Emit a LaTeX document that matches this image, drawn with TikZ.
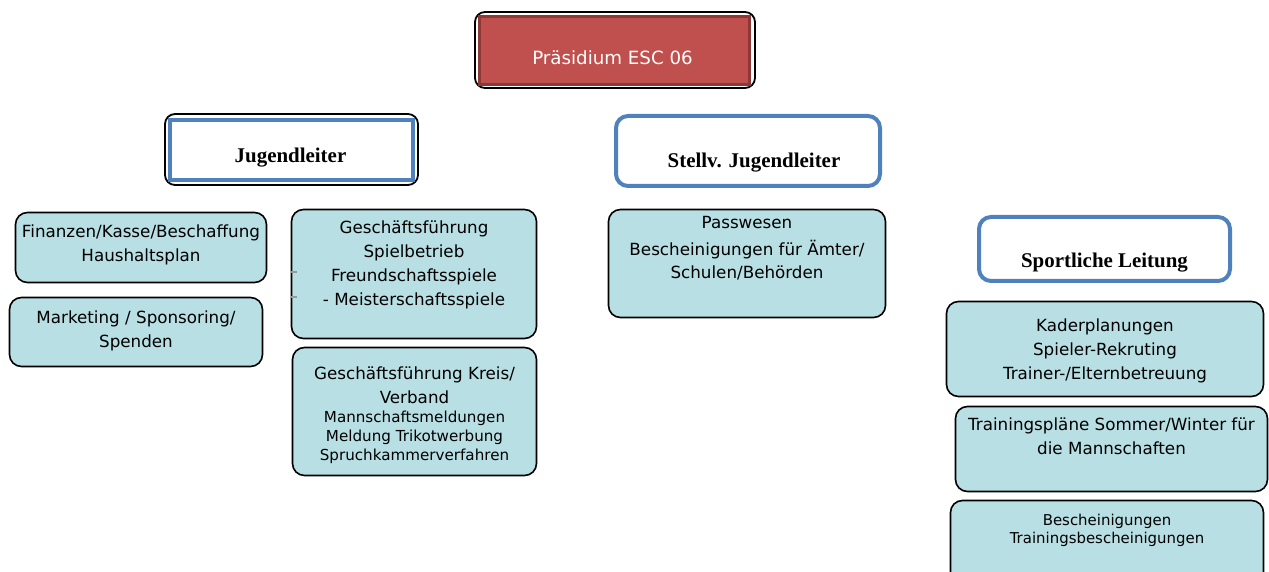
\documentclass[tikz,border=0pt]{standalone}
\usepackage{fontspec}
\setmainfont{DejaVu Sans}
\newfontfamily\headfont{Liberation Serif}
\usetikzlibrary{positioning}
\definecolor{tealfill}{RGB}{184,223,228}
\definecolor{headblue}{RGB}{79,129,189}
\definecolor{presred}{RGB}{192,80,77}
\definecolor{presdark}{RGB}{140,56,54}

\begin{document}
\begin{tikzpicture}[x=1bp, y=-1bp,
  sz/.style 2 args={minimum width=#1bp, minimum height=#2bp},
  task/.style     ={draw=black, line width=1.6bp, rounded corners=12bp, fill=tealfill, inner sep=0pt},
  tasktext/.style ={anchor=north, align=center, inner sep=0pt, font=\fontsize{16.8}{24}\selectfont},
  blackframe/.style={draw=black, line width=1.8bp, rounded corners=10bp, inner sep=0pt},
  head/.style     ={draw=headblue, line width=4bp, fill=white, inner sep=0pt},
  headtext/.style ={inner sep=0pt, font=\headfont\bfseries\fontsize{21}{24}\selectfont},
  presbox/.style  ={draw=presdark, line width=3bp, fill=presred, inner sep=0pt},
  tick/.style     ={draw=gray!80, line width=1.5bp}
]
\clip (0,0) rectangle (1269,572);

%%% ---- top: Praesidium ---------------------------------------------------
\node[blackframe, sz={280}{76}] (presframe) at (615,50) {};
\node[presbox, sz={270}{68}]    (pres)      at (614.5,50.5) {};
\node[font=\fontsize{18.3}{22}\selectfont, text=white, inner sep=0pt]
      (prestext) at ([xshift=-2bp,yshift=-7bp]pres.center) {Präsidium ESC 06};

%%% ---- heads ---------------------------------------------------------------
\node[blackframe, sz={253}{71}]              (jlframe) at (291.5,149.5) {};
\node[head, sz={243}{60}]                    (jl)      at (291.5,150) {};
\node[headtext] (jltext) at ([xshift=-1bp,yshift=-8bp]jl.center) {Jugendleiter};

\node[head, rounded corners=12bp, sz={264}{70}] (sjl) at (748,151) {};
\node[headtext] (sjltext) at ([xshift=6bp,yshift=-12bp]sjl.center) {Stellv. Jugendleiter};

\node[head, rounded corners=12bp, sz={251}{64}] (sl) at (1104.5,249) {};
\node[headtext] (sltext) at ([yshift=-14bp]sl.center) {Sportliche Leitung};

%%% ---- Jugendleiter: tasks --------------------------------------------------
\node[task, sz={251}{70}]  (fin)   at (141,247.5) {};
\node[tasktext] (fintext) at ([yshift=-13bp]fin.north) {Finanzen/Kasse/Beschaffung\\Haushaltsplan};

\node[task, sz={253}{69}]  (mark)  at (136,332) {};
\node[tasktext] (marktext) at ([yshift=-14bp]mark.north) {Marketing / Sponsoring/\\Spenden};

\node[task, sz={245}{129}] (spiel) at (414,274) {};
\node[tasktext] (spieltext) at ([yshift=-12bp]spiel.north)
      {Geschäftsführung\\Spielbetrieb\\Freundschaftsspiele\\- Meisterschaftsspiele};
\draw[tick] ([yshift=2bp]spiel.west)   -- ++(6,0);
\draw[tick] ([yshift=-23bp]spiel.west) -- ++(6,0);

\node[task, sz={244}{128}] (kreis) at (414.5,411.5) {};
\node[tasktext, font=\fontsize{15.2}{19}\selectfont] (kreistext) at ([yshift=-20bp]kreis.north)
      {{\fontsize{16.8}{24}\selectfont Geschäftsführung Kreis/}\\[5bp]
       {\fontsize{16.8}{24}\selectfont Verband}\\Mannschaftsmeldungen\\Meldung Trikotwerbung\\Spruchkammerverfahren};

%%% ---- Stellv. Jugendleiter: tasks ------------------------------------------
\node[task, sz={277}{108}] (pass)  at (747,263.5) {};
\node[tasktext] (passtext) at ([yshift=-7bp]pass.north)
      {Passwesen\\[3bp]Bescheinigungen für Ämter/\\Schulen/Behörden};

%%% ---- Sportliche Leitung: tasks --------------------------------------------
\node[task, sz={317}{95}]  (kader) at (1105,349) {};
\node[tasktext] (kadertext) at ([yshift=-18bp]kader.north)
      {Kaderplanungen\\Spieler-Rekruting\\Trainer-/Elternbetreuung};

\node[task, sz={312}{85}]  (train) at (1111.5,449) {};
\node[tasktext] (traintext) at ([yshift=-12bp]train.north)
      {Trainingspläne Sommer/Winter für\\die Mannschaften};

\node[task, sz={313}{84}]  (besch) at (1107,542.5) {};
\node[tasktext, font=\fontsize{15}{18}\selectfont] (beschtext) at ([yshift=-14bp]besch.north)
      {Bescheinigungen\\Trainingsbescheinigungen};

\end{tikzpicture}
\end{document}
